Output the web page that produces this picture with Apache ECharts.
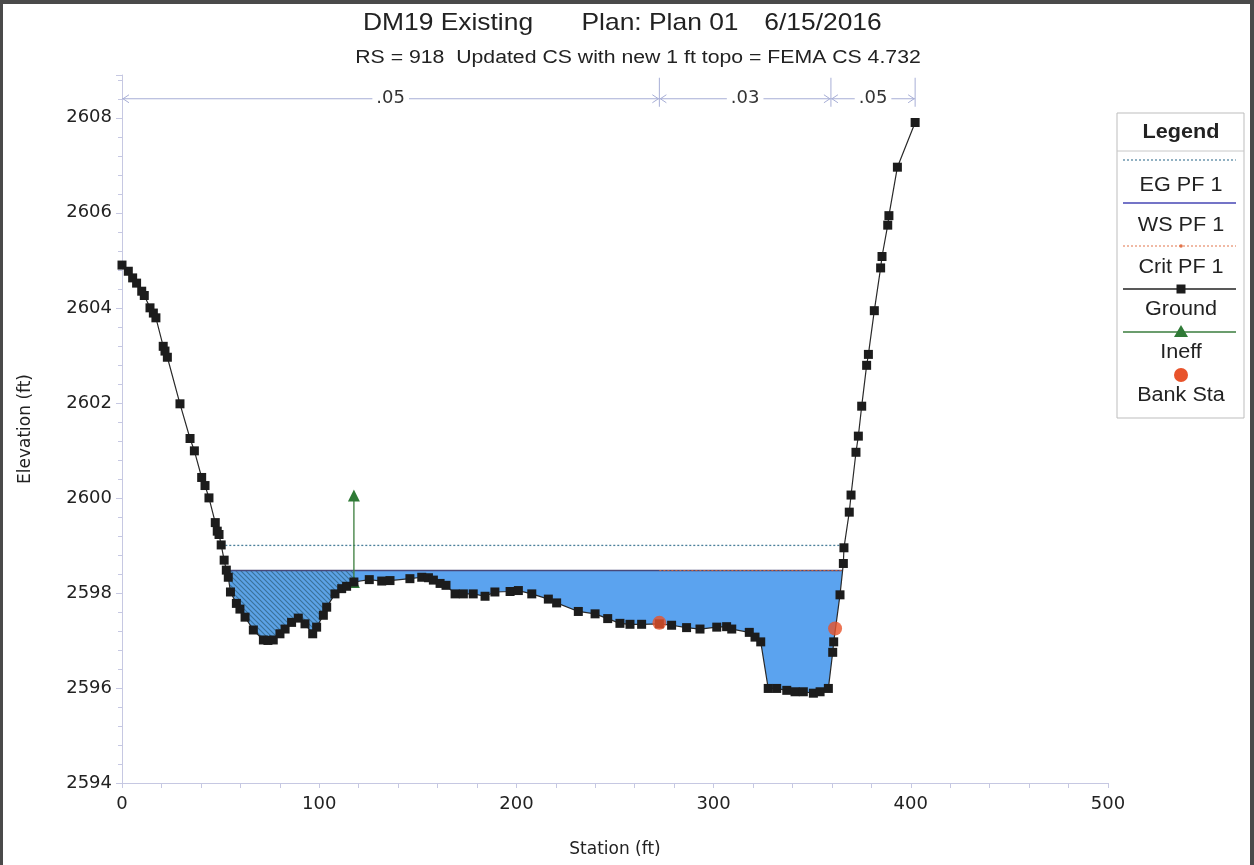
<!DOCTYPE html>
<html><head><meta charset="utf-8">
<script src="https://cdn.jsdelivr.net/npm/echarts@6/dist/echarts.min.js"></script>
<style>
html,body{margin:0;padding:0;background:#fff;}
#c{width:1254px;height:865px;}
#frame{position:absolute;left:0;top:0;width:1254px;height:865px;box-sizing:border-box;border-top:4px solid #4a4a4a;border-left:3px solid #4a4a4a;border-right:4px solid #4a4a4a;pointer-events:none;}
</style>
</head><body>
<div id="c"></div><div id="frame"></div>
<script>
// ---- data ----
const titleParts = ['DM19 Existing', 'Plan: Plan 01', '6/15/2016'];
const subtitleText = 'RS = 918  Updated CS with new 1 ft topo = FEMA CS 4.732';
const xAxisName = 'Station (ft)';
const yAxisName = 'Elevation (ft)';
const groundStation = [0,3.2,5.4,7.4,10.0,11.3,14.2,15.9,17.2,20.9,21.8,23.0,29.4,34.5,36.7,40.4,42.1,44.1,47.3,48.3,49.2,50.3,51.8,52.9,53.9,55.0,58.0,59.8,62.4,66.6,71.7,74.0,76.7,80.1,82.7,86.0,89.4,92.8,96.7,98.7,102.1,103.8,108.0,111.4,113.9,117.6,125.4,131.7,135.9,146.0,152.0,155.4,157.9,161.3,164.3,168.9,173.1,178.1,184.1,189.1,196.8,201.0,207.8,216.2,220.4,231.4,239.9,246.3,252.5,257.6,263.5,272.5,278.7,286.3,293.1,301.6,306.6,309.2,318.1,321.0,323.9,327.7,332.0,337.1,341.3,345.5,350.6,354.0,358.2,360.4,360.9,364.1,365.8,366.1,368.8,369.7,372.2,373.4,375.1,377.6,378.5,381.5,384.7,385.4,388.3,388.9,393.2,402.2];
const groundElev = [2604.90,2604.77,2604.63,2604.52,2604.35,2604.26,2604.00,2603.89,2603.79,2603.19,2603.09,2602.96,2601.98,2601.25,2600.99,2600.43,2600.26,2600.00,2599.48,2599.30,2599.23,2599.01,2598.69,2598.48,2598.33,2598.02,2597.78,2597.66,2597.49,2597.22,2597.01,2597.00,2597.01,2597.14,2597.24,2597.38,2597.47,2597.35,2597.14,2597.28,2597.53,2597.70,2597.98,2598.09,2598.14,2598.23,2598.28,2598.25,2598.26,2598.30,2598.33,2598.32,2598.27,2598.20,2598.16,2597.98,2597.98,2597.98,2597.93,2598.02,2598.03,2598.05,2597.98,2597.87,2597.79,2597.61,2597.56,2597.46,2597.36,2597.34,2597.34,2597.35,2597.32,2597.27,2597.24,2597.28,2597.29,2597.24,2597.17,2597.07,2596.97,2595.99,2595.99,2595.95,2595.92,2595.92,2595.89,2595.92,2595.99,2596.75,2596.97,2597.96,2598.62,2598.95,2599.70,2600.06,2600.96,2601.30,2601.93,2602.79,2603.02,2603.94,2604.84,2605.08,2605.74,2605.94,2606.96,2607.90];
const bankStation = [272.5, 361.6];
const bankElev = [2597.37, 2597.25];
const wsElev = 2598.47;
const egElev = 2599.0;
const critElev = 2598.47;
const ineffStation = 117.6;
const ineffElev = 2600.05;
const nStations = [0, 272.5, 359.5, 402.2];
const nValues = ['.05', '.03', '.05'];
const nBarElev = 2608.4;
const legendNames = ['EG PF 1', 'WS PF 1', 'Crit PF 1', 'Ground', 'Ineff', 'Bank Sta'];
const xMin = 0, xMax = 500, xStep = 100;
const yMin = 2594, yMax = 2608.9, yStep = 2;

// ---- helpers ----
function groundAt(s) {
  for (let i = 0; i < groundStation.length - 1; i++) {
    const a = groundStation[i], b = groundStation[i + 1];
    if (s >= a && s <= b) {
      const t = b === a ? 0 : (s - a) / (b - a);
      return groundElev[i] + t * (groundElev[i + 1] - groundElev[i]);
    }
  }
  return groundElev[groundElev.length - 1];
}
function crossings(level) {
  let L = null, R = null;
  for (let i = 0; i < groundStation.length - 1; i++) {
    if (groundElev[i] >= level && groundElev[i + 1] < level) {
      const t = (groundElev[i] - level) / (groundElev[i] - groundElev[i + 1]);
      L = groundStation[i] + t * (groundStation[i + 1] - groundStation[i]);
      break;
    }
  }
  for (let i = groundStation.length - 1; i > 0; i--) {
    if (groundElev[i] >= level && groundElev[i - 1] < level) {
      const t = (groundElev[i] - level) / (groundElev[i] - groundElev[i - 1]);
      R = groundStation[i] - t * (groundStation[i] - groundStation[i - 1]);
      break;
    }
  }
  return [L, R];
}
const [wsL, wsR] = crossings(wsElev);
const [egL, egR] = crossings(egElev);
const [crL, crR] = crossings(critElev);

function wetPolys() {
  const left = [[wsL, wsElev]], right = [[ineffStation, wsElev], [ineffStation, groundAt(ineffStation)]];
  for (let i = 0; i < groundStation.length; i++) {
    const s = groundStation[i];
    if (s > wsL && s < ineffStation) left.push([s, groundElev[i]]);
    if (s > ineffStation && s < wsR) right.push([s, groundElev[i]]);
  }
  left.push([ineffStation, groundAt(ineffStation)], [ineffStation, wsElev]);
  right.push([wsR, wsElev]);
  return [{pts: left, hatched: true}, {pts: right, hatched: false}];
}

// hatch pattern
const pc = document.createElement('canvas');
pc.width = 5; pc.height = 5;
const g2 = pc.getContext('2d');
g2.fillStyle = '#5ca2e6'; g2.fillRect(0, 0, 5, 5);
g2.strokeStyle = '#3a7199'; g2.lineWidth = 1.1;
g2.beginPath();
g2.moveTo(-1, -1); g2.lineTo(6, 6);
g2.moveTo(-1, 4); g2.lineTo(1, 6);
g2.moveTo(4, -1); g2.lineTo(6, 1);
g2.stroke();
const hatch = {image: pc, repeat: 'repeat'};
const waterColor = '#5ba3ef';

const txtFont = '"DejaVu Sans", sans-serif';
const arialFont = '"Liberation Sans", Arial, sans-serif';
const axisColor = '#c6c8e2';

// ---- legend graphic ----
const LX0 = 1117, LX1 = 1244, LCX = 1181;
const legendLineY = [160, 203, 246, 289, 332, 375];
const legendTextY = [185, 225, 267, 309, 352, 395];
const legendEls = [
  {type: 'rect', shape: {x: LX0, y: 113, width: LX1 - LX0, height: 305}, style: {fill: '#fff', stroke: '#bdbdbd', lineWidth: 1}},
  {type: 'line', shape: {x1: LX0, y1: 151, x2: LX1, y2: 151}, style: {stroke: '#c8c8c8', lineWidth: 1}},
  {type: 'text', x: LCX, y: 132, scaleX: 1.08, style: {text: 'Legend', font: 'bold 20px ' + arialFont, fill: '#222', align: 'center', verticalAlign: 'middle', textAlign: 'center', textVerticalAlign: 'middle'}}
];
legendNames.forEach((nm, i) => {
  const y = legendLineY[i];
  if (i === 0) legendEls.push({type: 'line', shape: {x1: 1123, y1: y, x2: 1236, y2: y}, style: {stroke: '#4a7f9a', lineWidth: 1.2, lineDash: [2, 2]}});
  if (i === 1) legendEls.push({type: 'line', shape: {x1: 1123, y1: y, x2: 1236, y2: y}, style: {stroke: '#4646b4', lineWidth: 1.5}});
  if (i === 2) {
    legendEls.push({type: 'line', shape: {x1: 1123, y1: y, x2: 1236, y2: y}, style: {stroke: '#e2744a', lineWidth: 1, lineDash: [2, 2]}});
    legendEls.push({type: 'circle', shape: {cx: LCX, cy: y, r: 1.8}, style: {fill: '#e2744a'}});
  }
  if (i === 3) {
    legendEls.push({type: 'line', shape: {x1: 1123, y1: y, x2: 1236, y2: y}, style: {stroke: '#222', lineWidth: 1.3}});
    legendEls.push({type: 'rect', shape: {x: LCX - 4.5, y: y - 4.5, width: 9, height: 9}, style: {fill: '#1c1c1c'}});
  }
  if (i === 4) {
    legendEls.push({type: 'line', shape: {x1: 1123, y1: y, x2: 1236, y2: y}, style: {stroke: '#3a7d3c', lineWidth: 1.3}});
    legendEls.push({type: 'polygon', shape: {points: [[LCX, y - 7], [LCX - 7, y + 5], [LCX + 7, y + 5]]}, style: {fill: '#2f7a36'}});
  }
  if (i === 5) legendEls.push({type: 'circle', shape: {cx: LCX, cy: y, r: 7}, style: {fill: '#e8532b'}});
  legendEls.push({type: 'text', x: LCX, y: legendTextY[i], scaleX: 1.08, style: {text: nm, font: '20px ' + arialFont, fill: '#222', align: 'center', verticalAlign: 'middle', textAlign: 'center', textVerticalAlign: 'middle'}});
});

// ---- title graphic ----
const titleX = [448, 660, 823];
const titleEls = titleParts.map((t, i) => ({
  type: 'text', x: titleX[i], y: 23, scaleX: 1.1,
  style: {text: t, font: '24px ' + arialFont, fill: '#222', align: 'center', verticalAlign: 'middle', textAlign: 'center', textVerticalAlign: 'middle'}
}));
titleEls.push({
  type: 'text', x: 638, y: 58, scaleX: 1.18,
  style: {text: subtitleText, font: '18px ' + arialFont, fill: '#222', align: 'center', verticalAlign: 'middle', textAlign: 'center', textVerticalAlign: 'middle'}
});

const chart = echarts.init(document.getElementById('c'));
chart.setOption({
  animation: false,
  backgroundColor: '#fff',
  grid: {left: 122, right: 146, top: 75, bottom: 82, containLabel: false},
  xAxis: {
    type: 'value', min: xMin, max: xMax, interval: xStep,
    name: xAxisName, nameLocation: 'middle', nameGap: 58,
    nameTextStyle: {fontFamily: txtFont, fontSize: 17, color: '#222'},
    axisLine: {show: true, lineStyle: {color: axisColor, width: 1}},
    axisTick: {show: true, length: 5, lineStyle: {color: axisColor}},
    minorTick: {show: true, splitNumber: 5, length: 5, lineStyle: {color: axisColor}},
    splitLine: {show: false},
    axisLabel: {fontFamily: txtFont, fontSize: 18, color: '#222', margin: 12}
  },
  yAxis: {
    type: 'value', min: yMin, max: yMax, interval: yStep,
    name: yAxisName, nameLocation: 'middle', nameGap: 88,
    nameTextStyle: {fontFamily: txtFont, fontSize: 17, color: '#222'},
    axisLine: {show: true, lineStyle: {color: axisColor, width: 1}},
    axisTick: {show: true, length: 6, lineStyle: {color: axisColor}},
    minorTick: {show: true, splitNumber: 5, length: 4, lineStyle: {color: axisColor}},
    splitLine: {show: false},
    axisLabel: {fontFamily: txtFont, fontSize: 18, color: '#222', margin: 10,
      formatter: v => (Math.abs(v % 2) < 1e-6 ? String(v) : '')}
  },
  graphic: titleEls.concat(legendEls),
  series: [
    {
      name: 'Water', type: 'custom', coordinateSystem: 'cartesian2d', silent: true, z: 1,
      data: [[0, wsElev]],
      renderItem: (params, api) => ({
        type: 'group',
        children: wetPolys().map(p => ({
          type: 'polygon',
          shape: {points: p.pts.map(q => api.coord(q))},
          style: {fill: p.hatched ? hatch : waterColor, stroke: null}
        }))
      })
    },
    {
      name: 'n values', type: 'custom', coordinateSystem: 'cartesian2d', silent: true, z: 3,
      data: nValues.map((v, i) => [nStations[i], nStations[i + 1], nBarElev, v]),
      encode: {x: [0, 1], y: 2},
      renderItem: (params, api) => {
        const a = api.coord([api.value(0), api.value(2)]);
        const b = api.coord([api.value(1), api.value(2)]);
        const c = '#a7aed6';
        const ls = {stroke: c, lineWidth: 1, fill: null};
        return {
          type: 'group',
          children: [
            {type: 'line', shape: {x1: a[0], y1: a[1], x2: b[0], y2: b[1]}, style: ls},
            {type: 'polyline', shape: {points: [[a[0] + 7, a[1] - 4], [a[0] + 1, a[1]], [a[0] + 7, a[1] + 4]]}, style: ls},
            {type: 'polyline', shape: {points: [[b[0] - 7, b[1] - 4], [b[0] - 1, b[1]], [b[0] - 7, b[1] + 4]]}, style: ls},
            {type: 'line', shape: {x1: b[0], y1: b[1] - 21, x2: b[0], y2: b[1] + 8}, style: ls},
            {type: 'text', x: (a[0] + b[0]) / 2, y: a[1],
              style: {text: nValues[params.dataIndex], font: '18px ' + txtFont, fill: '#333',
                align: 'center', verticalAlign: 'middle', textAlign: 'center', textVerticalAlign: 'middle',
                backgroundColor: '#fff', padding: [0, 4]}}
          ]
        };
      }
    },
    {
      name: 'EG PF 1', type: 'line', z: 3, symbol: 'none',
      data: [[egL, egElev], [egR, egElev]],
      lineStyle: {color: '#4a7f9a', width: 1.3, type: [2, 2]}
    },
    {
      name: 'WS PF 1', type: 'line', z: 3, symbol: 'none',
      data: [[wsL, wsElev], [wsR, wsElev]],
      lineStyle: {color: '#48487a', width: 1.5}
    },
    {
      name: 'Crit PF 1', type: 'line', z: 3, symbol: 'none',
      data: [[bankStation[0], critElev], [crR, critElev]],
      lineStyle: {color: '#d86a3a', width: 1, type: [2, 2]}
    },
    {
      name: 'Ineff', type: 'line', z: 4, symbol: 'triangle', symbolSize: 12,
      data: [[ineffStation, groundAt(ineffStation)], [ineffStation, ineffElev]],
      lineStyle: {color: '#3a7d3c', width: 1.3},
      itemStyle: {color: '#2f7a36'}
    },
    {
      name: 'Ground', type: 'line', z: 5, symbol: 'rect', symbolSize: 9, showAllSymbol: true,
      data: groundStation.map((s, i) => [s, groundElev[i]]),
      lineStyle: {color: '#2a2a2a', width: 1.2},
      itemStyle: {color: '#1c1c1c'}
    },
    {
      name: 'Bank Sta', type: 'scatter', z: 6, symbol: 'circle', symbolSize: 14,
      data: bankStation.map((s, i) => [s, bankElev[i]]),
      itemStyle: {color: '#e8532b'}
    }
  ]
});
</script>
</body></html>
